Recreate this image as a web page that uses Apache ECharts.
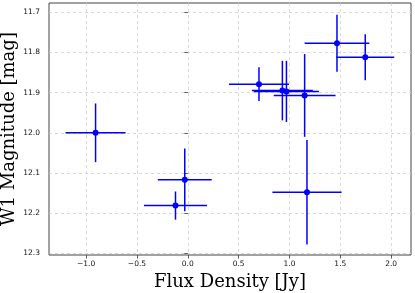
<!DOCTYPE html>
<html>
<head>
<meta charset="utf-8">
<script src="https://cdn.jsdelivr.net/npm/echarts@6/dist/echarts.min.js"></script>
<style>
html,body{margin:0;padding:0;background:#fff;}
#c{width:415px;height:293px;}
</style>
</head>
<body>
<div id="c"></div>
<script>
// Data
const fluxDensity = [-0.907, -0.03, -0.121, 1.172, 1.467, 1.745, 0.70, 0.93, 0.97, 1.149];
const w1Magnitude = [12.0, 12.117, 12.181, 12.148, 11.777, 11.812, 11.879, 11.895, 11.897, 11.907];
const fluxError = [0.295, 0.265, 0.31, 0.34, 0.318, 0.285, 0.295, 0.30, 0.32, 0.304];
const magError = [0.073, 0.078, 0.035, 0.13, 0.071, 0.057, 0.042, 0.074, 0.076, 0.103];
const xTicks = [-1.0, -0.5, 0.0, 0.5, 1.0, 1.5, 2.0];
const yTicks = [11.7, 11.8, 11.9, 12.0, 12.1, 12.2, 12.3];

const fmt = v => (v < 0 ? '\u2212' : '') + Math.abs(v).toFixed(1);
const pts = fluxDensity.map((x, i) => [x, w1Magnitude[i], fluxError[i], magError[i]]);

const chart = echarts.init(document.getElementById('c'), null, {renderer: 'canvas'});
const gridColor = '#d0d0d0';
chart.setOption({
  animation: false,
  grid: {left: 49, top: 3, width: 362, height: 252, containLabel: false, outerBoundsMode: 'none',
         show: true, borderColor: '#444', borderWidth: 1, backgroundColor: 'transparent'},
  xAxis: {
    type: 'value', min: -1.365, max: 2.195,
    name: 'Flux Density [Jy]', nameLocation: 'middle', nameGap: 18, nameMoveOverlap: false,
    nameTextStyle: {fontFamily: 'DejaVu Serif', fontSize: 18, color: '#000', verticalAlign: 'top'},
    axisLine: {show: false},
    axisTick: {show: true, length: 3.5, lineStyle: {color: '#333', width: 0.8}, customValues: xTicks},
    axisLabel: {customValues: xTicks, formatter: fmt, fontFamily: 'DejaVu Sans', fontSize: 7.5, color: '#111', margin: 5},
    splitLine: {show: false}
  },
  yAxis: {
    type: 'value', inverse: true, min: 11.677, max: 12.304,
    name: 'W1 Magnitude [mag]', nameLocation: 'middle', nameGap: 31, nameMoveOverlap: false,
    nameTextStyle: {fontFamily: 'DejaVu Serif', fontSize: 18, color: '#000'},
    axisLine: {show: false},
    axisTick: {show: true, length: 3.5, lineStyle: {color: '#333', width: 0.8}, customValues: yTicks},
    axisLabel: {customValues: yTicks, formatter: v => v.toFixed(1), fontFamily: 'DejaVu Sans', fontSize: 7.5, color: '#111', margin: 9},
    splitLine: {show: false}
  },
  series: [
    {
      type: 'scatter', data: [], z: 0, silent: true,
      markLine: {
        z: 0, zlevel: 0,
        silent: true, symbol: 'none', label: {show: false}, animation: false,
        lineStyle: {color: gridColor, type: [3, 3], width: 0.8},
        emphasis: {disabled: true},
        data: xTicks.map(v => ({xAxis: v})).concat(yTicks.map(v => ({yAxis: v})))
      }
    },
    {
      type: 'custom', z: 6, silent: true,
      data: pts,
      renderItem: function (params, api) {
        const x = api.value(0), y = api.value(1), ex = api.value(2), ey = api.value(3);
        const l = api.coord([x - ex, y]), r = api.coord([x + ex, y]);
        const t = api.coord([x, y - ey]), b = api.coord([x, y + ey]);
        const style = {stroke: '#0000ff', lineWidth: 1.5};
        return {
          type: 'group',
          children: [
            {type: 'line', shape: {x1: l[0], y1: l[1], x2: r[0], y2: r[1]}, style: style},
            {type: 'line', shape: {x1: t[0], y1: t[1], x2: b[0], y2: b[1]}, style: style}
          ]
        };
      }
    },
    {
      type: 'scatter', z: 7, silent: true,
      data: pts.map(p => [p[0], p[1]]),
      symbol: 'circle', symbolSize: 6,
      itemStyle: {color: '#0000ff', opacity: 1}
    }
  ]
});
</script>
</body>
</html>
